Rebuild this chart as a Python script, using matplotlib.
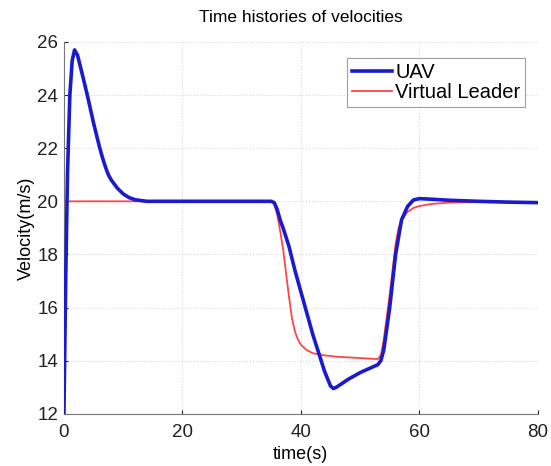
import matplotlib.pyplot as plt

# UAV velocity
t_uav = [0, 0.3, 0.6, 1.0, 1.4, 1.8, 2.3, 2.8, 3.3, 4.0, 4.5, 5.0, 5.5, 6.0, 6.5, 7.0,
         7.5, 8.0, 9.0, 10, 11, 12, 14, 20, 30, 35, 35.5, 36, 36.5, 37, 38, 39, 40,
         41, 42, 43, 44, 45, 45.5, 46, 47, 48, 50, 52, 53, 53.5, 54, 55, 56, 57, 58,
         59, 60, 62, 65, 70, 75, 80]
v_uav = [12, 17, 21, 24, 25.3, 25.7, 25.5, 25.05, 24.6, 23.95, 23.45, 22.95, 22.5,
         22.05, 21.65, 21.3, 21.0, 20.8, 20.5, 20.28, 20.14, 20.06, 20.0, 20.0, 20.0,
         20.0, 19.95, 19.7, 19.3, 19.0, 18.3, 17.4, 16.6, 15.8, 15.0, 14.3, 13.6,
         13.05, 12.95, 13.0, 13.15, 13.3, 13.55, 13.75, 13.85, 14.0, 14.4, 16.0, 18.0,
         19.3, 19.8, 20.05, 20.1, 20.08, 20.04, 20.0, 19.97, 19.95]

# virtual leader velocity
t_vl = [0, 35, 35.5, 36, 36.5, 37, 37.5, 38, 38.5, 39, 39.5, 40, 41, 42, 44, 46, 50,
        53, 53.5, 54, 55, 56, 56.5, 57, 58, 59, 60, 62, 65, 70, 80]
v_vl = [20, 20, 19.9, 19.5, 18.9, 18.2, 17.3, 16.4, 15.6, 15.1, 14.8, 14.6, 14.4,
        14.28, 14.2, 14.15, 14.1, 14.06, 14.2, 14.8, 16.5, 18.4, 19.0, 19.3, 19.6,
        19.75, 19.82, 19.9, 19.95, 19.97, 19.95]

plt.rcParams['font.family'] = ['Liberation Sans', 'DejaVu Sans']

fig = plt.figure(figsize=(5.51, 4.66), dpi=100)
ax = fig.add_axes([0.116, 0.112, 0.86, 0.798])

ax.plot(t_uav, v_uav, color='#1a1ad0', lw=2.6, label='UAV', zorder=3)
ax.plot(t_vl, v_vl, color='#ff4545', lw=1.3, label='Virtual Leader', zorder=2)

ax.set_xlim(0, 80)
ax.set_ylim(12, 26)
ax.set_xticks([0, 20, 40, 60, 80])
ax.set_yticks([12, 14, 16, 18, 20, 22, 24, 26])
ax.tick_params(direction='in', length=3, labelsize=13.5, colors='#222222')
ax.tick_params(axis='x', pad=7)
ax.tick_params(axis='y', pad=4)
ax.grid(True, linestyle=':', color='#d8d8d8', lw=0.8)

for s in ['top', 'right']:
    ax.spines[s].set_visible(False)
for s in ['left', 'bottom']:
    ax.spines[s].set_color('#777777')

ax.set_title('Time histories of velocities', fontsize=12.5, pad=14)
ax.set_xlabel('time(s)', fontsize=13, labelpad=4)
ax.set_ylabel('Velocity(m/s)', fontsize=13, labelpad=2)

leg = ax.legend(loc='upper right', fontsize=14.5, frameon=True, fancybox=False,
                edgecolor='#888888', handlelength=2.0, handletextpad=0.15,
                borderpad=0.25, labelspacing=0.05, bbox_to_anchor=(0.995, 0.985))
leg.get_frame().set_linewidth(0.8)

fig.savefig('out.png', dpi=100)
